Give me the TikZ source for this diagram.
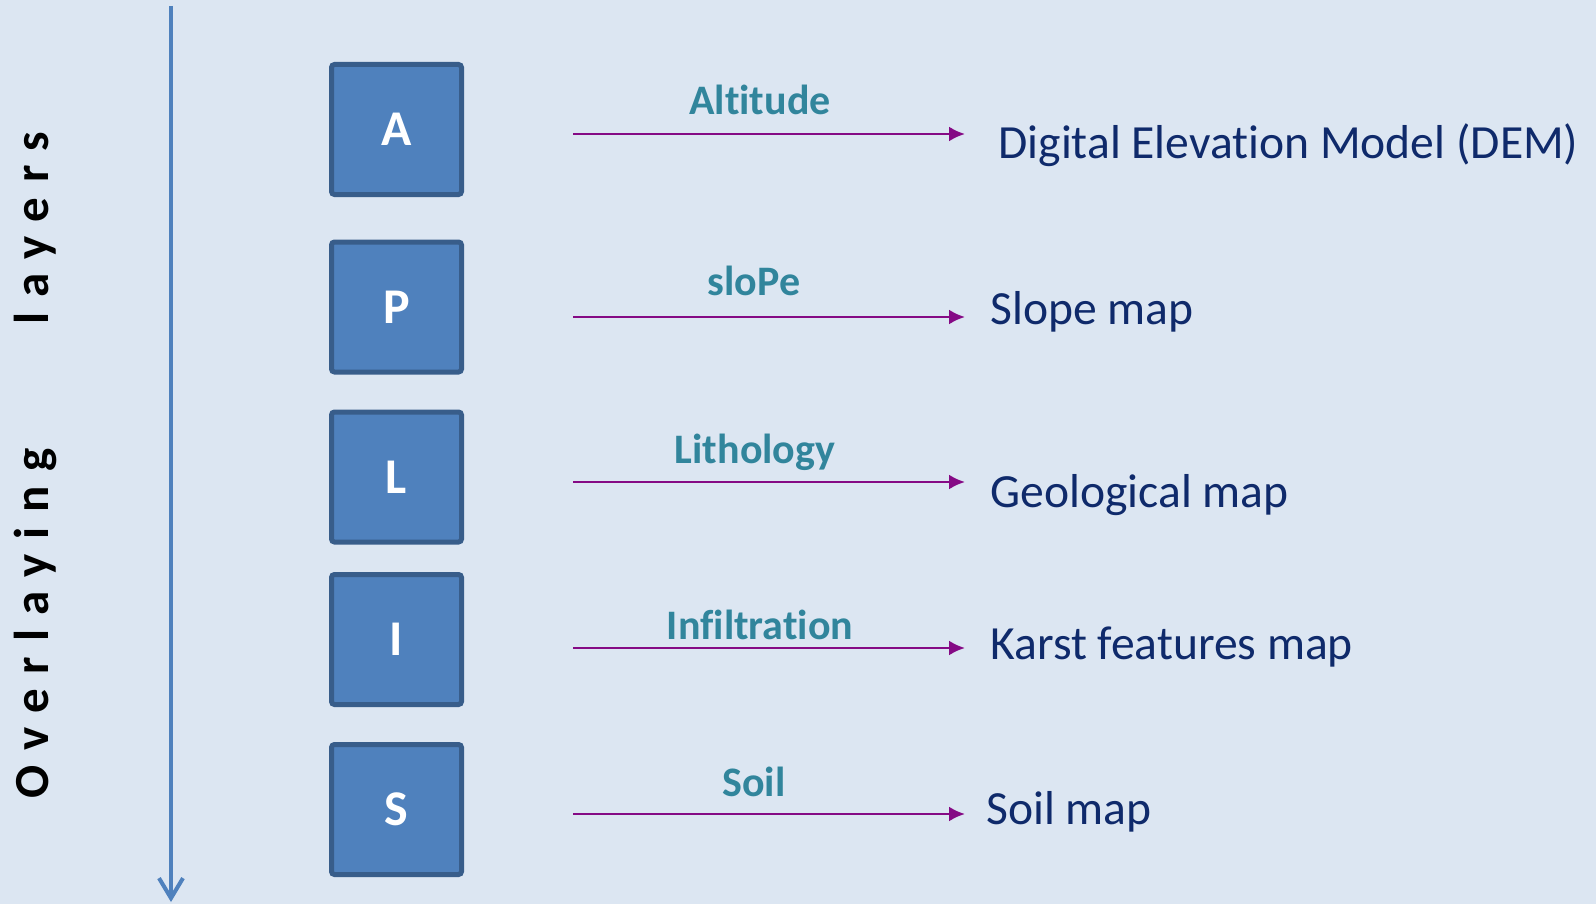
\documentclass[tikz,border=0pt]{standalone}
\usepackage{fontspec}
\setmainfont[Ligatures=NoCommon]{Carlito}
\usetikzlibrary{arrows.meta,positioning}

\definecolor{bg}{HTML}{DCE6F2}
\definecolor{boxfill}{HTML}{4F81BD}
\definecolor{boxline}{HTML}{385D8A}
\definecolor{tagcol}{HTML}{31859C}
\definecolor{mapcol}{HTML}{0F2A6B}
\definecolor{arrowcol}{HTML}{850A85}

\begin{document}
\begin{tikzpicture}[
  x=0.5pt,y=-0.5pt,
  layer/.style={draw=boxline,fill=boxfill,line width=2.5pt,rounded corners=1.5pt,minimum width=65pt,minimum height=65pt,inner sep=0pt,text=white,font=\fontsize{25}{30}\selectfont\bfseries},
  tag/.style={anchor=base,inner sep=0pt,text=tagcol,font=\fontsize{21}{25}\selectfont\bfseries},
  map/.style={anchor=base west,inner sep=0pt,text=mapcol,font=\fontsize{23.8}{28}\selectfont},
  arrow/.style={-{Latex[length=8pt,width=7.5pt]},draw=arrowcol,line width=1.3pt},
  axis/.style={-{Straight Barb[length=10pt,width=12pt]},draw=boxfill,line width=2pt}
]
\fill[bg] (0,0) rectangle (1596,904);
\useasboundingbox (0,0) rectangle (1596,904);

% order of the layers
\coordinate (top) at (171,6);
\coordinate (bot) at (171,902);
\draw[axis] (top) -- (bot);
\node[rotate=90,anchor=base west,inner sep=0pt,
  font=\fontsize{24.5}{29}\selectfont\bfseries\addfontfeature{LetterSpace=30}] (title)
  at (48,799) {Overlaying\hspace{62pt}layers};

% the five layers
\node[layer] (alt)  at (396.5,129.5) {A};
\node[layer] (slp)  at (396.5,307)   {P};
\node[layer] (lith) at (396.5,477)   {L};
\node[layer] (inf)  at (396.5,639.5) {I};
\node[layer] (soil) at (396.5,809.5) {S};

% arrows with their factor
\coordinate (alt0)  at (573,134); \coordinate (alt1)  at (965,134);
\coordinate (slp0)  at (573,317); \coordinate (slp1)  at (965,317);
\coordinate (lith0) at (573,482); \coordinate (lith1) at (965,482);
\coordinate (inf0)  at (573,648); \coordinate (inf1)  at (965,648);
\coordinate (soil0) at (573,814); \coordinate (soil1) at (965,814);
\draw[arrow] (alt0) -- (alt1);
\draw[arrow] (slp0) -- (slp1);
\draw[arrow] (lith0) -- (lith1);
\draw[arrow] (inf0) -- (inf1);
\draw[arrow] (soil0) -- (soil1);

\node[tag] (altT)  at (760,115) {Altitude};
\node[tag] (slpT)  at (754,295) {sloPe};
\node[tag] (lithT) at (755,463) {Lithology};
\node[tag] (infT)  at (760,639) {Infiltration};
\node[tag] (soilT) at (754,796) {Soil};

% resulting maps
\node[map] (dem)     at (998,158) {Digital Elevation Model (DEM)};
\node[map] (slope)   at (990,324) {Slope map};
\node[map] (geo)     at (990,507) {Geological map};
\node[map] (karst)   at (990,659) {Karst features map};
\node[map] (soilmap) at (986,824) {Soil map};
\end{tikzpicture}
\end{document}
